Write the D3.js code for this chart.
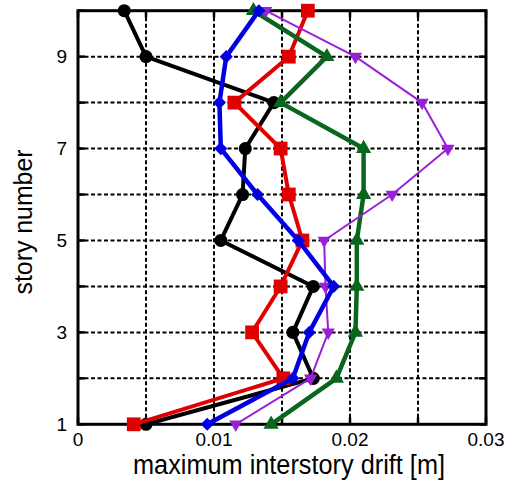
<!DOCTYPE html>
<html>
<head>
<meta charset="utf-8">
<script src="https://cdn.jsdelivr.net/npm/d3@7"></script>
<style>
  body { margin: 0; background: #fff; }
  text { font-family: "Liberation Sans", Arial, sans-serif; fill: #000; }
</style>
</head>
<body>
<svg id="chart" width="513" height="483"></svg>
<script>
// stories 1..10
const stories = [1, 2, 3, 4, 5, 6, 7, 8, 9, 10];

// maximum interstory drift [m] per story, one array per run
const driftBlack  = [0.0050, 0.0173, 0.0158, 0.0173, 0.0105, 0.0121, 0.0123, 0.0144, 0.0050, 0.0034];
const driftRed    = [0.0041, 0.0151, 0.0128, 0.0149, 0.0165, 0.0155, 0.0149, 0.0115, 0.0155, 0.0169];
const driftBlue   = [0.0095, 0.0158, 0.0170, 0.0188, 0.0162, 0.0132, 0.0105, 0.0104, 0.0109, 0.0133];
const driftGreen  = [0.0142, 0.0190, 0.0204, 0.0205, 0.0205, 0.0210, 0.0210, 0.0149, 0.0183, 0.0129];
const driftPurple = [0.0116, 0.0171, 0.0184, 0.0182, 0.0181, 0.0231, 0.0272, 0.0253, 0.0204, 0.0138];

const xTicks = [0, 0.01, 0.02, 0.03];
const xTickLabels = ["0", "0.01", "0.02", "0.03"];
const yTicks = [1, 3, 5, 7, 9];

const svg = d3.select("#chart");
const margin = { top: 10.7, right: 27, bottom: 58.7, left: 78 };
const width = 513 - margin.left - margin.right;
const height = 483 - margin.top - margin.bottom;

const g = svg.append("g")
    .attr("transform", `translate(${margin.left}, ${margin.top})`);

const x = d3.scaleLinear().domain([0, 0.03]).range([0, width]);
const y = d3.scaleLinear().domain([1, 10]).range([height, 0]);

// dashed grid
const xGrid = d3.range(0, 0.0301, 0.005);
g.selectAll("line.xgrid")
    .data(xGrid.slice(1, -1))
    .enter().append("line")
    .attr("x1", d => x(d)).attr("x2", d => x(d))
    .attr("y1", 0).attr("y2", height)
    .attr("stroke", "#000").attr("stroke-width", 2)
    .attr("stroke-dasharray", "4,2.5");

g.selectAll("line.ygrid")
    .data(stories.slice(1, -1))
    .enter().append("line")
    .attr("x1", 0).attr("x2", width)
    .attr("y1", d => y(d)).attr("y2", d => y(d))
    .attr("stroke", "#000").attr("stroke-width", 2)
    .attr("stroke-dasharray", "4,2.5");

// inward ticks on all four sides
const tickLen = 7;
xGrid.forEach(v => {
    g.append("line").attr("x1", x(v)).attr("x2", x(v)).attr("y1", height).attr("y2", height - tickLen)
        .attr("stroke", "#000").attr("stroke-width", 2.5);
    g.append("line").attr("x1", x(v)).attr("x2", x(v)).attr("y1", 0).attr("y2", tickLen)
        .attr("stroke", "#000").attr("stroke-width", 2.5);
});
stories.forEach(v => {
    g.append("line").attr("x1", 0).attr("x2", tickLen).attr("y1", y(v)).attr("y2", y(v))
        .attr("stroke", "#000").attr("stroke-width", 2.5);
    g.append("line").attr("x1", width).attr("x2", width - tickLen).attr("y1", y(v)).attr("y2", y(v))
        .attr("stroke", "#000").attr("stroke-width", 2.5);
});

// frame
g.append("rect")
    .attr("width", width).attr("height", height)
    .attr("fill", "none").attr("stroke", "#000").attr("stroke-width", 3);

// tick labels
g.selectAll("text.xlab")
    .data(xTicks)
    .enter().append("text")
    .attr("x", d => x(d)).attr("y", height + 21.5)
    .attr("text-anchor", "middle")
    .attr("font-size", 19)
    .text((d, i) => xTickLabels[i]);

g.selectAll("text.ylab")
    .data(yTicks)
    .enter().append("text")
    .attr("x", -11).attr("y", d => y(d))
    .attr("dy", "0.36em")
    .attr("text-anchor", "end")
    .attr("font-size", 19)
    .text(d => d);

// axis titles
svg.append("text")
    .attr("x", 289).attr("y", 474)
    .attr("text-anchor", "middle")
    .attr("font-size", 27)
    .attr("textLength", 312).attr("lengthAdjust", "spacingAndGlyphs")
    .text("maximum interstory drift [m]");

svg.append("text")
    .attr("transform", "translate(32, 222) rotate(-90)")
    .attr("text-anchor", "middle")
    .attr("font-size", 26)
    .attr("textLength", 145).attr("lengthAdjust", "spacingAndGlyphs")
    .text("story number");

// series, drawn bottom to top
const series = [
    { values: driftBlack,  color: "#000000", width: 4,   symbol: d3.symbolCircle,   size: 135, rotate: 0 },
    { values: driftRed,    color: "#e00000", width: 4,   symbol: d3.symbolSquare,   size: 190, rotate: 0 },
    { values: driftGreen,  color: "#0a661c", width: 4.5, symbol: d3.symbolTriangle, size: 100, rotate: 0 },
    { values: driftPurple, color: "#9a1fd8", width: 2,   symbol: d3.symbolTriangle, size: 75,  rotate: 180 },
    { values: driftBlue,   color: "#0000e0", width: 4.5, symbol: d3.symbolDiamond2, size: 110, rotate: 0 }
];

const line = d3.line()
    .x(d => x(d[0]))
    .y(d => y(d[1]));

series.forEach(s => {
    const pts = s.values.map((v, i) => [v, stories[i]]);
    const sg = g.append("g");
    sg.append("path")
        .datum(pts)
        .attr("d", line)
        .attr("fill", "none")
        .attr("stroke", s.color)
        .attr("stroke-width", s.width)
        .attr("stroke-linejoin", "round");
    sg.selectAll("path.marker")
        .data(pts)
        .enter().append("path")
        .attr("class", "marker")
        .attr("transform", d => `translate(${x(d[0])}, ${y(d[1])}) rotate(${s.rotate})`)
        .attr("d", d3.symbol().type(s.symbol).size(s.size))
        .attr("fill", s.color);
});
</script>
</body>
</html>
